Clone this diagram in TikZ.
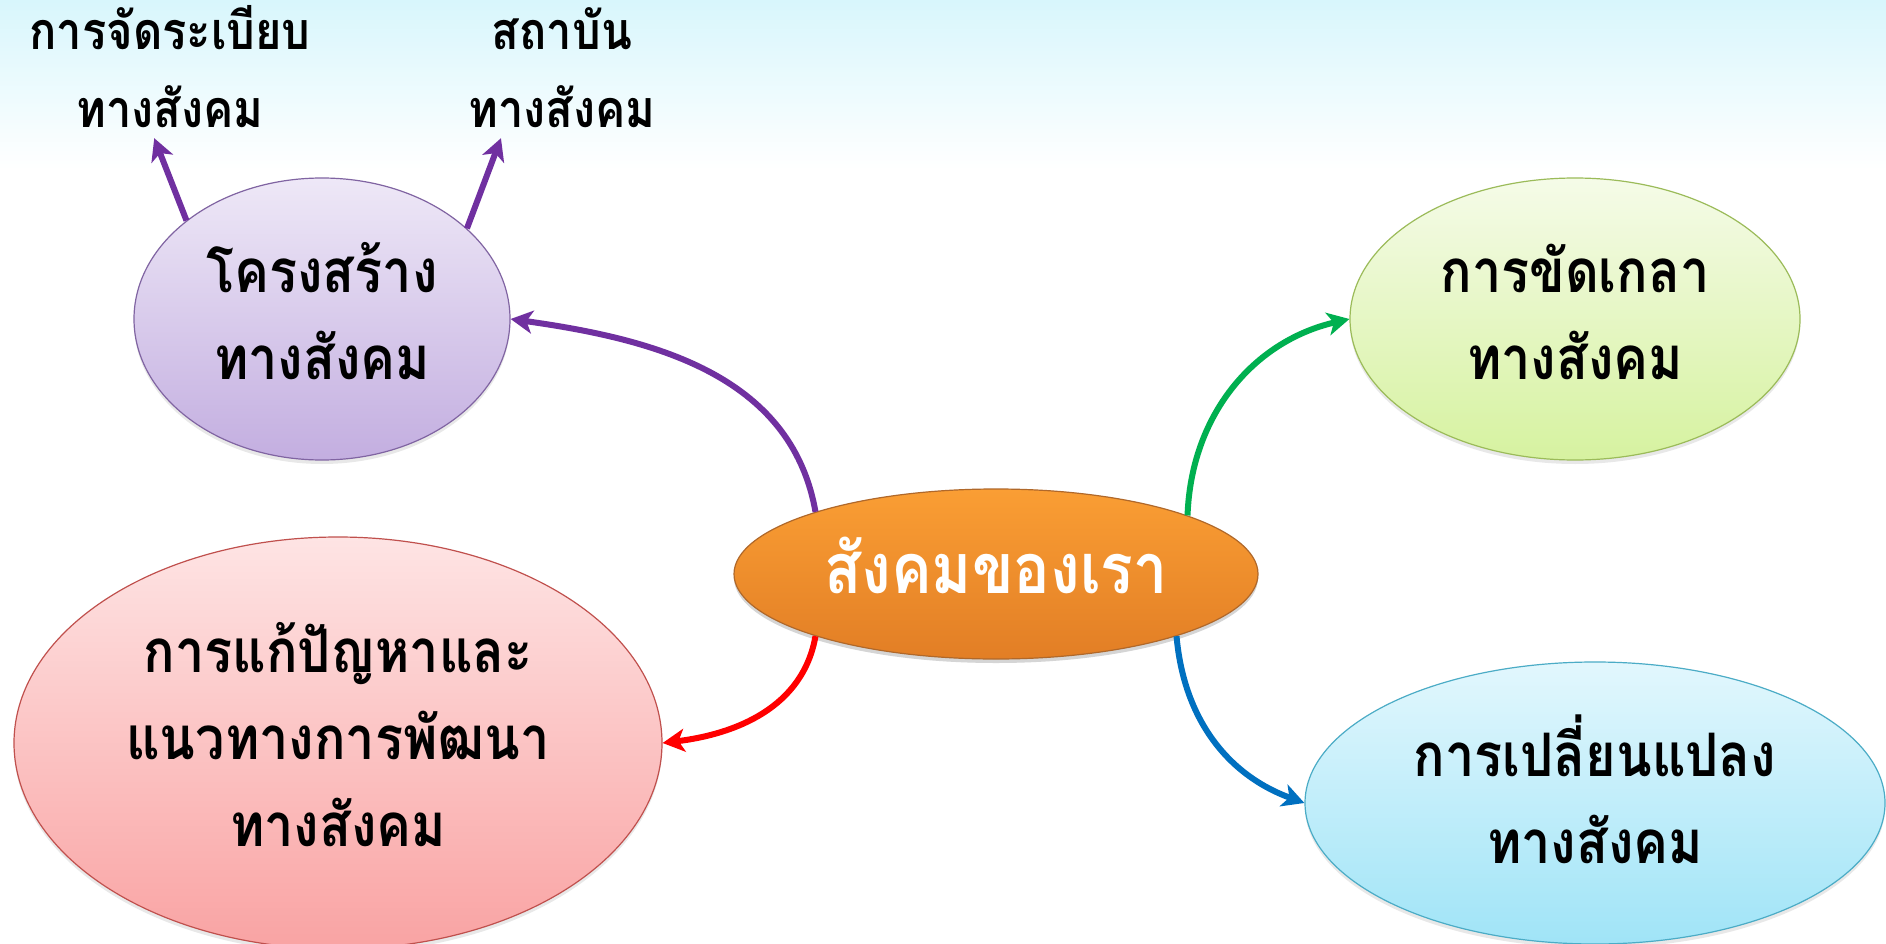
\documentclass[tikz,border=0pt]{standalone}
\usepackage{fontspec}
\newfontfamily\thaifont[Script=Thai,FakeStretch=0.87]{Loma}
\usepackage{tikz}
\usetikzlibrary{arrows.meta,positioning,shapes,shadows}
\tikzset{
  topic/.style = {ellipse, draw, line width=1.2pt, inner sep=0pt, align=center, text=black,
  font=\thaifont\bfseries\fontsize{60}{87}\selectfont, text depth=0pt, text height=120pt,
  drop shadow={opacity=0.18, shadow xshift=0pt, shadow yshift=-4pt}},
  subtopic/.style = {align=center, inner xsep=2pt, inner ysep=10pt, text=black,
  font=\thaifont\bfseries\fontsize{52}{78}\selectfont, text depth=0pt, text height=106pt},
  link/.style = {->, line width=6pt}
}
\definecolor{my_purple}{RGB}{112, 48, 160}
\definecolor{my_green}{RGB}{0, 176, 80}
\definecolor{my_red}{RGB}{255, 0, 0}
\definecolor{my_blue}{RGB}{0, 112, 192}
\definecolor{my_sky}{RGB}{216, 246, 252}

\begin{document}
\begin{tikzpicture}[x=1pt,y=-1pt,>={Stealth[length=22pt,width=23pt,inset=6pt]},
        	core/.style={topic, draw={rgb,255:red,176;green,104;blue,42}, text=white,
        	  top color={rgb,255:red,250;green,158;blue,52}, bottom color={rgb,255:red,226;green,126;blue,37},
        	  font=\thaifont\bfseries\fontsize{70}{80}\selectfont, text height=38pt},
        	struct/.style={draw={rgb,255:red,128;green,100;blue,162},
        	  top color={rgb,255:red,238;green,232;blue,247}, bottom color={rgb,255:red,195;green,174;blue,224}},
        	social/.style={draw={rgb,255:red,155;green,187;blue,89},
        	  top color={rgb,255:red,245;green,251;blue,232}, bottom color={rgb,255:red,214;green,242;blue,160}},
        	solve/.style={draw={rgb,255:red,192;green,80;blue,77}, text height=207pt,
        	  top color={rgb,255:red,254;green,228;blue,228}, bottom color={rgb,255:red,249;green,163;blue,163}},
        	change/.style={draw={rgb,255:red,75;green,172;blue,198},
        	  top color={rgb,255:red,226;green,247;blue,253}, bottom color={rgb,255:red,160;green,228;blue,247}}]
            \fill[white] (0,0) rectangle (1886,944);
            \shade[top color=my_sky, bottom color=white] (0,0) rectangle (1886,170);
            \useasboundingbox (0,0) rectangle (1886,944);

            \node [topic, struct, minimum width=376, minimum height=282] (structure) at (322,319) {โครงสร้าง\\ทางสังคม};
            \node [topic, social, minimum width=450, minimum height=282] (socialize) at (1575,319) {การขัดเกลา\\ทางสังคม};
            \node [topic, solve, minimum width=648, minimum height=412] (develop) at (338,743) {การแก้ปัญหาและ\\แนวทางการพัฒนา\\ทางสังคม};
            \node [topic, change, minimum width=580, minimum height=282] (changing) at (1595,803) {การเปลี่ยนแปลง\\ทางสังคม};
            \node [topic, core, minimum width=524, minimum height=170] (society) at (996,574) {สังคมของเรา};

            \node [subtopic] (order) at (170,75) {การจัดระเบียบ\\ทางสังคม};
            \node [subtopic] (institution) at (562,75) {สถาบัน\\ทางสังคม};

            \draw [link, my_purple] (society.161) to[out=100, in=-8] (structure.east);
            \draw [link, my_green] (society.17) to[out=88, in=193] (socialize.west);
            \draw [link, my_red] (society.199) to[out=-100, in=7] (develop.east);
            \draw [link, my_blue] (society.341) to[out=-85, in=160] (changing.west);
            \draw [link, my_purple] (structure.144) -- (order.256);
            \draw [link, my_purple] (structure.32) -- (institution.226);
        \end{tikzpicture}
\end{document}
